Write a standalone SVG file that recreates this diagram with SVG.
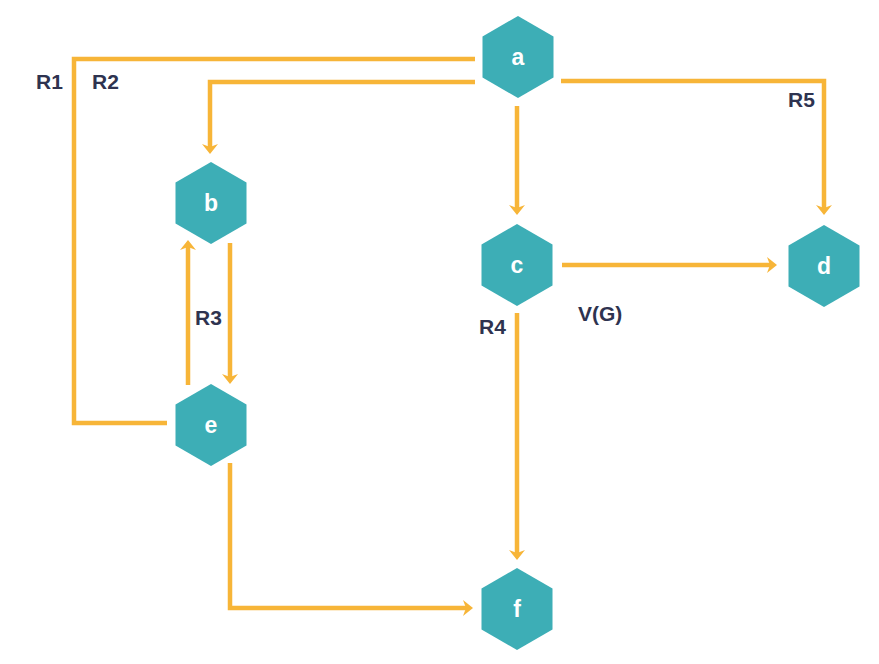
<svg xmlns="http://www.w3.org/2000/svg" width="879" height="664" viewBox="0 0 879 664">
<defs>
<marker id="arr" markerUnits="userSpaceOnUse" markerWidth="20" markerHeight="20" viewBox="-5 -10 20 20" refX="0" refY="0" orient="auto">
<path d="M7,0 L-3,-8 L0,0 L-3,8 Z" fill="#F7B538"/>
</marker>
<polygon id="hex" points="0,-41 35.5,-20.5 35.5,20.5 0,41 -35.5,20.5 -35.5,-20.5"/>
</defs>
<style>
.edge{fill:none;stroke:#F7B538;stroke-width:4.5;stroke-linejoin:miter}
.hx{fill:#3DAEB6}
.nl{font-family:"Liberation Sans",Arial,sans-serif;font-weight:bold;font-size:23px;fill:#ffffff;text-anchor:middle}
.lb{font-family:"Liberation Sans",Arial,sans-serif;font-weight:bold;font-size:21px;fill:#2E3350}
</style>
<rect width="879" height="664" fill="#ffffff"/>
<g id="connectors">
<polyline class="edge" points="475,59 74,59 74,423 167,423"/>
<polyline class="edge" points="475,82 210,82 210,147" marker-end="url(#arr)"/>
<polyline class="edge" points="517,106 517,208" marker-end="url(#arr)"/>
<polyline class="edge" points="561,81 824,81 824,208" marker-end="url(#arr)"/>
<polyline class="edge" points="562,265 770,265" marker-end="url(#arr)"/>
<polyline class="edge" points="517,313 517,553" marker-end="url(#arr)"/>
<polyline class="edge" points="188,385 188,247" marker-end="url(#arr)"/>
<polyline class="edge" points="230,243 230,377" marker-end="url(#arr)"/>
<polyline class="edge" points="230,463 230,608 466,608" marker-end="url(#arr)"/>
</g>
<g id="node-a"><use href="#hex" class="hx" x="518" y="57"/><text class="nl" x="518" y="65">a</text></g>
<g id="node-b"><use href="#hex" class="hx" x="211" y="203"/><text class="nl" x="211" y="211">b</text></g>
<g id="node-c"><use href="#hex" class="hx" x="517" y="265"/><text class="nl" x="517" y="273">c</text></g>
<g id="node-d"><use href="#hex" class="hx" x="824" y="266"/><text class="nl" x="824" y="274">d</text></g>
<g id="node-e"><use href="#hex" class="hx" x="211" y="425"/><text class="nl" x="211" y="433">e</text></g>
<g id="node-f"><use href="#hex" class="hx" x="517" y="609"/><text class="nl" x="517" y="617">f</text></g>
<g id="labels">
<text class="lb" x="36" y="89">R1</text>
<text class="lb" x="92" y="89">R2</text>
<text class="lb" x="195" y="325">R3</text>
<text class="lb" x="479" y="334">R4</text>
<text class="lb" x="578" y="321">V(G)</text>
<text class="lb" x="788" y="107">R5</text>
</g>
</svg>
